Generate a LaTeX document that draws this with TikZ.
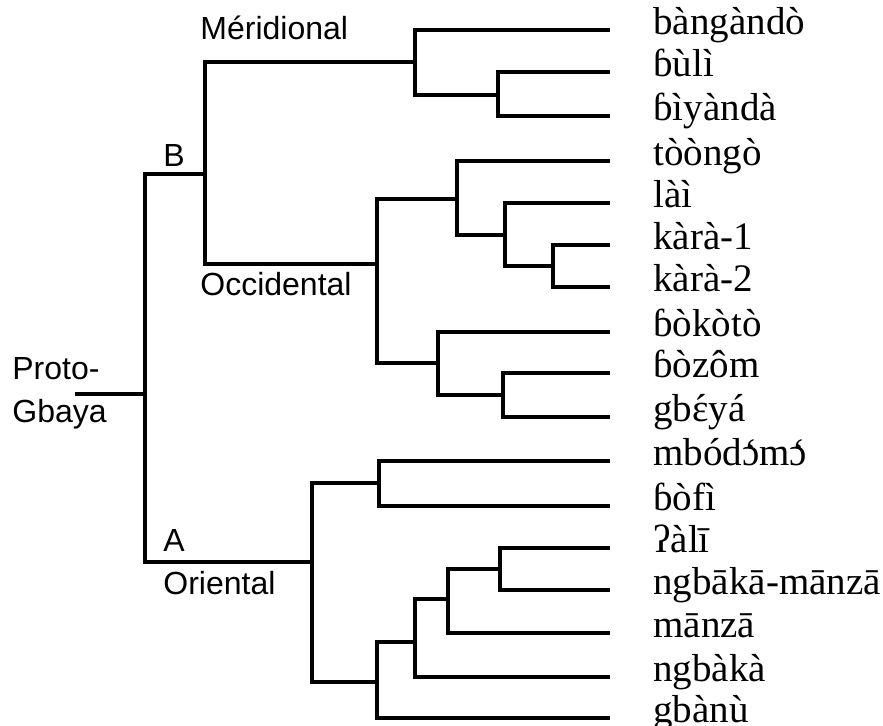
\documentclass[tikz,border=0pt]{standalone}
\usepackage{fontspec}
\setmainfont{Liberation Serif}
\newfontfamily\groupfont{Liberation Sans}
\usepackage{tikz}
% accents set over a letter by hand
\newcommand\acu[1]{\accent"00B4 #1}
\newcommand\grv[1]{\accent"0060 #1}
\tikzset{
    branch/.style={line width=1.9pt},
    leaf/.style={anchor=mid west, inner sep=0pt, inner xsep=21.5pt, font=\fontsize{19.5}{23}\selectfont},
    group/.style={anchor=base west, inner sep=0pt, font=\groupfont\fontsize{16}{21.5}\selectfont}
}

\begin{document}
\begin{tikzpicture}[x=0.5pt,y=-0.5pt]
                \useasboundingbox (0,0) rectangle (883,726);
                % Languages
                \node[leaf] (l1) at (610,30) {bàngàndò};
                \node[leaf] (l2) at (610,72) {ɓùlì};
                \node[leaf] (l3) at (610,116) {ɓìyàndà};
                \node[leaf] (l4) at (610,161) {tòòngò};
                \node[leaf] (l5) at (610,203) {làì};
                \node[leaf] (l6) at (610,245) {kàrà-1};
                \node[leaf] (l7) at (610,287) {kàrà-2};
                \node[leaf] (l8) at (610,332) {ɓòkòtò};
                \node[leaf] (l9) at (610,373) {ɓòzôm};
                \node[leaf] (l10) at (610,417) {gb\acu{ɛ}yá};
                \node[leaf] (l11) at (610,461) {mbód\grv{ɔ}m\grv{ɔ}};
                \node[leaf] (l12) at (610,506) {ɓòfì};
                \node[leaf] (l13) at (610,548) {ʔàlī};
                \node[leaf] (l14) at (610,590) {ngbākā-mānzā};
                \node[leaf] (l15) at (610,633) {mānzā};
                \node[leaf] (l16) at (610,677) {ngbàkà};
                \node[leaf] (l17) at (610,718) {gbànù};
                % Branch points
                \coordinate (stem) at (75,394);
                \coordinate (root) at (145,394);
                \coordinate (B) at (205,174);
                \coordinate (A) at (312,562);
                \coordinate (mer) at (415,62);
                \coordinate (mer2) at (498,95);
                \coordinate (occ) at (377,264);
                \coordinate (occ1) at (457,199);
                \coordinate (occ2) at (505,235);
                \coordinate (occ3) at (553,266);
                \coordinate (occ4) at (438,363);
                \coordinate (occ5) at (503,395);
                \coordinate (ori1) at (379,483);
                \coordinate (ori2) at (377,682);
                \coordinate (ori3) at (415,642);
                \coordinate (ori4) at (448,599);
                \coordinate (ori5) at (500,569);
                % Proto-Gbaya
                \draw[branch] (stem) -- (root);
                \draw[branch] (root) |- (B);
                \draw[branch] (root) |- (A);
                % B
                \draw[branch] (B) |- (mer);
                \draw[branch] (B) |- (occ);
                % Meridional
                \draw[branch] (mer) |- (l1.mid west);
                \draw[branch] (mer) |- (mer2);
                \draw[branch] (mer2) |- (l2.mid west);
                \draw[branch] (mer2) |- (l3.mid west);
                % Occidental
                \draw[branch] (occ) |- (occ1);
                \draw[branch] (occ) |- (occ4);
                \draw[branch] (occ1) |- (l4.mid west);
                \draw[branch] (occ1) |- (occ2);
                \draw[branch] (occ2) |- (l5.mid west);
                \draw[branch] (occ2) |- (occ3);
                \draw[branch] (occ3) |- (l6.mid west);
                \draw[branch] (occ3) |- (l7.mid west);
                \draw[branch] (occ4) |- (l8.mid west);
                \draw[branch] (occ4) |- (occ5);
                \draw[branch] (occ5) |- (l9.mid west);
                \draw[branch] (occ5) |- (l10.mid west);
                % A, Oriental
                \draw[branch] (A) |- (ori1);
                \draw[branch] (A) |- (ori2);
                \draw[branch] (ori1) |- (l11.mid west);
                \draw[branch] (ori1) |- (l12.mid west);
                \draw[branch] (ori2) |- (ori3);
                \draw[branch] (ori2) |- (l17.mid west);
                \draw[branch] (ori3) |- (ori4);
                \draw[branch] (ori3) |- (l16.mid west);
                \draw[branch] (ori4) |- (ori5);
                \draw[branch] (ori4) |- (l15.mid west);
                \draw[branch] (ori5) |- (l13.mid west);
                \draw[branch] (ori5) |- (l14.mid west);
                % Group names
                \node[group] (proto) at (12,380) {Proto-};
                \node[group] (gbaya) at (12,423) {Gbaya};
                \node[group] (nameB) at (163,167) {B};
                \node[group] (nameA) at (163,552) {A};
                \node[group] (namemer) at (200,40) {Méridional};
                \node[group] (nameocc) at (200,296) {Occidental};
                \node[group] (nameori) at (163,595) {Oriental};
            \end{tikzpicture}
\end{document}
